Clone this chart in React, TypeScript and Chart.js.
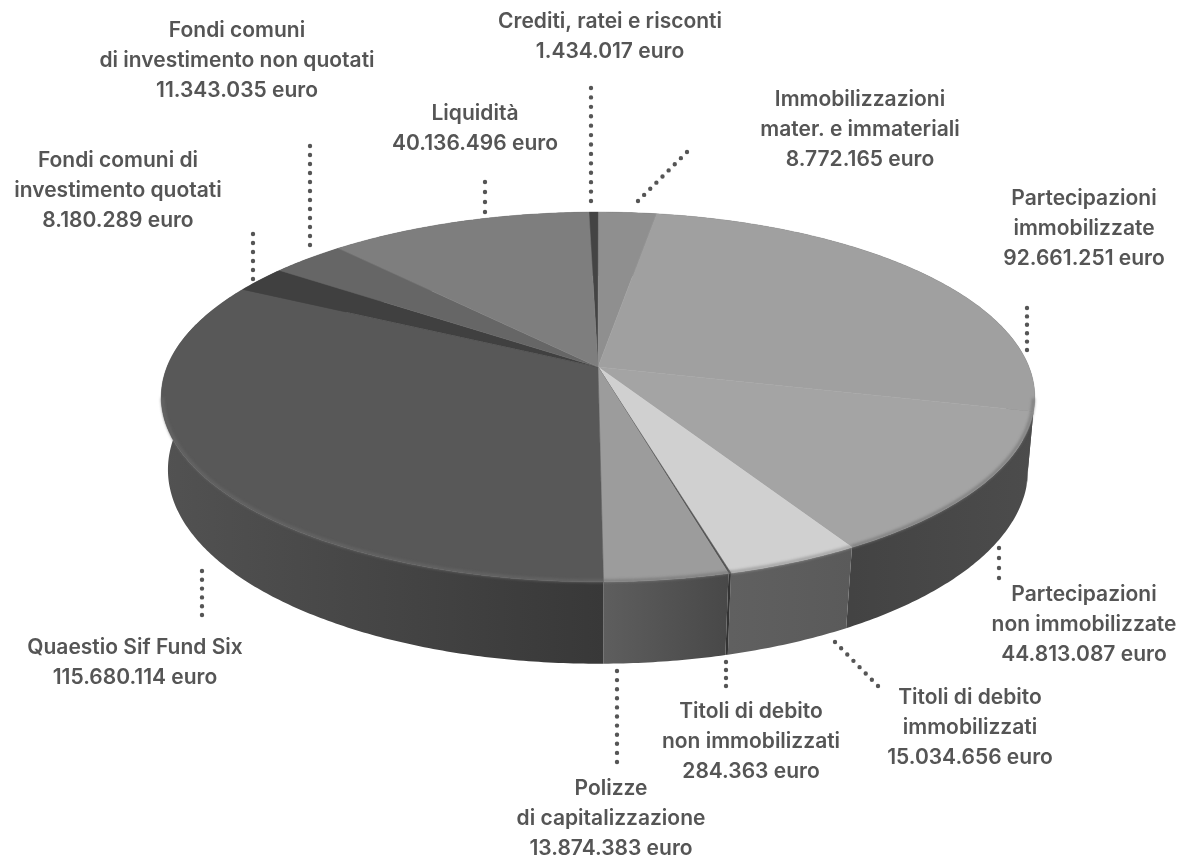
import React, { useEffect, useRef } from "react";
import { Chart, registerables } from "chart.js";

Chart.register(...registerables);

const labelLines: string[][] = [
  ["Crediti, ratei e risconti"],
  ["Immobilizzazioni", "mater. e immateriali"],
  ["Partecipazioni", "immobilizzate"],
  ["Partecipazioni", "non immobilizzate"],
  ["Titoli di debito", "immobilizzati"],
  ["Titoli di debito", "non immobilizzati"],
  ["Polizze", "di capitalizzazione"],
  ["Quaestio Sif Fund Six"],
  ["Fondi comuni di", "investimento quotati"],
  ["Fondi comuni", "di investimento non quotati"],
  ["Liquidità"],
];
const values = [
  1434017, 8772165, 92661251, 44813087, 15034656, 284363, 13874383, 115680114,
  8180289, 11343035, 40136496,
];
const topColors = [
  "#444444", "#8f8f8f", "#a0a0a0", "#a4a4a4", "#d0d0d0", "#555555", "#9c9c9c",
  "#585858", "#404040", "#666666", "#7e7e7e",
];
const wallLeft = [
  "#333333", "#444444", "#4a4a4a", "#434343", "#606060", "#333333", "#5e5e5e",
  "#525252", "#404040", "#444444", "#444444",
];
const wallRight = [
  "#333333", "#444444", "#4a4a4a", "#4c4c4c", "#5a5a5a", "#333333", "#484848",
  "#383838", "#404040", "#444444", "#444444",
];
const rimColors = [
  "#444444", "#8f8f8f", "#767676", "#767676", "#949494", "#555555", "#767676",
  "#686868", "#404040", "#666666", "#7e7e7e",
];
// label centre x, first line centre y
const labelX = [610, 860, 1084, 1084, 970, 751, 611, 135, 118, 237, 475];
const labelY = [22, 100, 199, 595, 698, 712, 789, 648, 161, 31, 114];
// leader line ends: x1, y1, x2, y2
const leaders = [
  [591, 88, 591, 201],
  [638, 201, 687, 152],
  [1027, 308, 1027, 350],
  [999, 548, 999, 578],
  [835, 642, 878, 686],
  [726, 662, 726, 686],
  [617, 671, 617, 762],
  [202, 571, 202, 615],
  [253, 234, 253, 279],
  [310, 146, 310, 245],
  [485, 182, 485, 212],
];

const FONT = '600 21px Inter, sans-serif';
const INK = "#555555";
const LINE_H = 29.6;

type Disc = { cx: number; y0: number; b: number; a: number; k: number };
const topDisc: Disc = { cx: 598, y0: 367, b: 431, a: 180, k: 0.162 };
const bottomDisc: Disc = { cx: 598, y0: 440, b: 425, a: 189.5, k: 0.153 };

const project = (d: Disc, angle: number, scale = 1) => {
  const u = Math.cos(angle) * scale;
  const v = -Math.sin(angle) * scale;
  const w = 1 + d.k * v;
  return { x: d.cx + (d.b * u) / w, y: d.y0 - (d.a * v) / w };
};

const samples = (a0: number, a1: number) => {
  const n = Math.max(2, Math.ceil((a1 - a0) / 0.01));
  const out: number[] = [];
  for (let i = 0; i <= n; i++) out.push(a0 + ((a1 - a0) * i) / n);
  return out;
};

const euro = (n: number) =>
  String(n).replace(/\B(?=(\d{3})+(?!\d))/g, ".") + " euro";

const discPlugin = {
  id: "perspectiveDisc",
  beforeDatasetsDraw(chart: any) {
    const ctx: CanvasRenderingContext2D = chart.ctx;
    const arcs = chart.getDatasetMeta(0).data;
    ctx.save();
    // walls
    arcs.forEach((arc: any, i: number) => {
      const pts = samples(arc.startAngle, arc.endAngle);
      const top = pts.map((a) => project(topDisc, a));
      const bot = pts.map((a) => project(bottomDisc, a));
      const front = pts
        .filter((a) => Math.sin(a) > -0.1)
        .map((a) => project(topDisc, a).x);
      const x0 = front.length ? Math.min(...front) : 0;
      const x1 = front.length ? Math.max(...front) : 1;
      const g = ctx.createLinearGradient(x0, 0, Math.max(x1, x0 + 1), 0);
      g.addColorStop(0, wallLeft[i]);
      g.addColorStop(1, wallRight[i]);
      ctx.beginPath();
      top.forEach((p, j) => (j ? ctx.lineTo(p.x, p.y) : ctx.moveTo(p.x, p.y)));
      [...bot].reverse().forEach((p) => ctx.lineTo(p.x, p.y));
      ctx.closePath();
      ctx.fillStyle = g;
      ctx.fill();
    });
    // top face
    arcs.forEach((arc: any, i: number) => {
      ctx.beginPath();
      ctx.moveTo(topDisc.cx, topDisc.y0);
      samples(arc.startAngle, arc.endAngle).forEach((a) => {
        const p = project(topDisc, a);
        ctx.lineTo(p.x, p.y);
      });
      ctx.closePath();
      ctx.fillStyle = topColors[i];
      ctx.strokeStyle = topColors[i];
      ctx.lineWidth = 0.5;
      ctx.fill();
      ctx.stroke();
    });
    // soft rim on the near side
    ctx.filter = "blur(1.4px)";
    arcs.forEach((arc: any, i: number) => {
      const pts = samples(arc.startAngle, arc.endAngle).filter(
        (a) => Math.sin(a) > 0.16
      );
      if (pts.length < 2) return;
      ctx.beginPath();
      pts.forEach((a, j) => {
        const p = project(topDisc, a, 0.997);
        j ? ctx.lineTo(p.x, p.y) : ctx.moveTo(p.x, p.y);
      });
      ctx.strokeStyle = rimColors[i];
      ctx.lineWidth = 2.4;
      ctx.stroke();
    });
    ctx.filter = "none";
    ctx.restore();
    return false;
  },
  afterDraw(chart: any) {
    const ctx: CanvasRenderingContext2D = chart.ctx;
    ctx.save();
    ctx.strokeStyle = INK;
    ctx.lineCap = "round";
    ctx.lineWidth = 4.4;
    leaders.forEach(([x1, y1, x2, y2]) => {
      const len = Math.hypot(x2 - x1, y2 - y1);
      const over = 0.5 / len;
      ctx.setLineDash([0, len / Math.round(len / 9.1)]);
      ctx.beginPath();
      ctx.moveTo(x1, y1);
      ctx.lineTo(x2 + (x2 - x1) * over, y2 + (y2 - y1) * over);
      ctx.stroke();
    });
    ctx.setLineDash([]);
    ctx.fillStyle = INK;
    ctx.font = FONT;
    ctx.textAlign = "center";
    ctx.textBaseline = "middle";
    labelLines.forEach((lines, i) => {
      [...lines, euro(values[i])].forEach((t, j) => {
        ctx.fillText(t, labelX[i], labelY[i] + j * LINE_H);
      });
    });
    ctx.restore();
  },
};

export default function App() {
  const ref = useRef<HTMLCanvasElement>(null);
  useEffect(() => {
    document.body.style.margin = "0";
    document.body.style.background = "#ffffff";
    const chart = new Chart(ref.current as HTMLCanvasElement, {
      type: "pie",
      data: {
        labels: labelLines.map((l) => l.join(" ")),
        datasets: [{ data: values, backgroundColor: topColors, borderWidth: 0 }],
      },
      options: {
        responsive: false,
        animation: false,
        devicePixelRatio: 1,
        rotation: -1.4,
        plugins: { legend: { display: false }, tooltip: { enabled: false } },
      },
      plugins: [discPlugin],
    } as any);
    return () => chart.destroy();
  }, []);
  return (
    <canvas
      ref={ref}
      width={1181}
      height={857}
      style={{ display: "block", width: 1181, height: 857 }}
    />
  );
}
